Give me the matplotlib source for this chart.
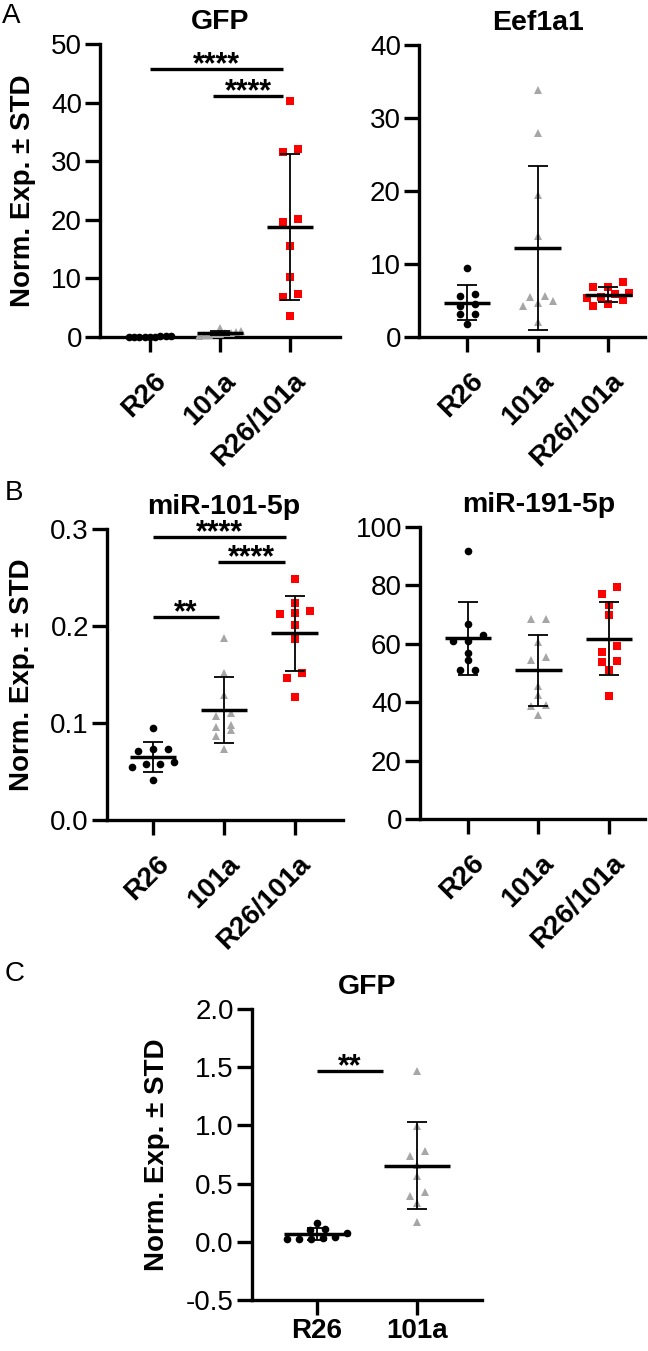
import numpy as np
import matplotlib
matplotlib.use("Agg")
import matplotlib.pyplot as plt
from matplotlib.transforms import ScaledTranslation

plt.rcParams['font.family'] = ['Liberation Sans', 'DejaVu Sans']

W, H = 648, 1351

groups = ['R26', '101a', 'R26/101a']

# GFP (same animals in panel A and in panel C)
gfp_r26 = [0.165, 0.11, 0.10, 0.075, 0.025, 0.02, 0.04, 0.02, 0.03]
gfp_101a = [1.47, 0.996, 0.738, 0.782, 0.661, 0.566, 0.397, 0.427, 0.332, 0.174]
gfp_dbl = [40.2, 32.0, 31.6, 20.2, 19.7, 15.6, 10.2, 7.3, 6.9, 3.5]

eef_r26 = [9.5, 5.9, 5.6, 4.5, 4.2, 3.1, 3.1, 1.8]
eef_101a = [33.8, 27.9, 19.4, 13.8, 5.5, 4.6, 4.9, 5.6, 4.3, 2.1]
eef_dbl = [7.5, 6.0, 6.9, 6.9, 5.9, 5.3, 5.1, 5.5, 4.3, 4.5]

mir101_r26 = [0.095, 0.073, 0.071, 0.073, 0.058, 0.060, 0.058, 0.041, 0.055]
mir101_101a = [0.188, 0.152, 0.129, 0.110, 0.107, 0.096, 0.098, 0.093, 0.087, 0.073]
mir101_dbl = [0.248, 0.224, 0.213, 0.212, 0.215, 0.201, 0.187, 0.152, 0.146, 0.127]

mir191_r26 = [91.9, 66.9, 63.1, 61.0, 61.0, 56.8, 54.3, 50.9, 50.9]
mir191_101a = [68.5, 68.5, 60.5, 55.5, 54.3, 45.4, 42.6, 39.2, 38.8, 35.7]
mir191_dbl = [79.5, 77.2, 73.4, 69.7, 59.1, 57.2, 54.0, 53.8, 51.1, 42.0]

# significance bars: (from group, to group, height, stars)
gfp_sig = [(0, 1.9, 45.7, '****'), (0.9, 1.9, 41.1, '****')]
mir101_sig = [(0, 1.88, 0.2917, '****'), (0.92, 1.86, 0.2656, '****'),
              (0, 0.93, 0.2092, '**')]
gfpc_sig = [(0, 0.66, 1.464, '**')]

gfp_yticks = [0, 10, 20, 30, 40, 50]
eef_yticks = [0, 10, 20, 30, 40]
mir101_yticks = [0.0, 0.1, 0.2, 0.3]
mir191_yticks = [0, 20, 40, 60, 80, 100]
gfpc_yticks = [-0.5, 0.0, 0.5, 1.0, 1.5, 2.0]

styles = [dict(marker='o', color='black'),
          dict(marker='^', color='#a6a6a6'),
          dict(marker='s', color='#ff0000')]

fig = plt.figure(figsize=(W / 100, H / 100), dpi=100)


def px_box(x0, y0, x1, y1):
    return [x0 / W, 1 - y1 / H, (x1 - x0) / W, (y1 - y0) / H]


def swarm(ax, x0, values, row_px=7.0, step_px=15.0, max_frac=0.6):
    """Spread points of similar value sideways, in rows like a column scatter."""
    values = np.asarray(values, dtype=float)
    pts = ax.transData.transform(np.column_stack([np.full(len(values), x0), values]))
    ypx = pts[:, 1]
    xscale = ax.transData.transform((1, 0))[0] - ax.transData.transform((0, 0))[0]
    max_px = max_frac * xscale
    order = np.argsort(ypx)
    rows, cur, start = [], [order[0]], ypx[order[0]]
    for i in order[1:]:
        if ypx[i] - start < row_px:
            cur.append(i)
        else:
            rows.append(cur)
            cur, start = [i], ypx[i]
    rows.append(cur)
    offs = np.zeros(len(values))
    for r in rows:
        n = len(r)
        if n > 1:
            step = min(step_px, max_px / (n - 1))
            for k, i in enumerate(r):
                offs[i] = (k - (n - 1) / 2) * step
    return x0 + offs / xscale


def draw_panel(box, xlim, title, series, yticks, fmt, sig=(), rotate=True, ylabel_x=None):
    ax = fig.add_axes(px_box(*box))
    ax.set_xlim(xlim)
    ax.set_ylim(yticks[0], yticks[-1])
    for s in ['top', 'right']:
        ax.spines[s].set_visible(False)
    for s in ['left', 'bottom']:
        ax.spines[s].set_linewidth(2.4)
    ax.tick_params(width=2.4, length=11, labelsize=20, pad=2)
    ax.set_yticks(yticks)
    ax.set_yticklabels([fmt.format(t) for t in yticks])
    xs = np.arange(len(series))
    ax.set_xticks(xs)
    if rotate:
        labels = ax.set_xticklabels(groups[:len(series)], rotation=45, ha='right', va='top',
                                    fontweight='bold', fontsize=20)
        for lab in labels:
            lab.set_transform(lab.get_transform() + ScaledTranslation(21 / 100, -13 / 100, fig.dpi_scale_trans))
    else:
        ax.set_xticklabels(groups[:len(series)], fontweight='bold', fontsize=20)

    for i, vals in enumerate(series):
        vals = np.asarray(vals)
        xpos = swarm(ax, i, vals)
        ax.plot(xpos, vals, linestyle='none', markersize=5.5, markeredgewidth=0,
                clip_on=False, zorder=4, **styles[i])
        m, sd = vals.mean(), vals.std(ddof=1)
        ax.plot([i - 0.33, i + 0.33], [m, m], color='black', lw=2.5, zorder=5,
                solid_capstyle='butt')
        ax.errorbar(i, m, yerr=sd, color='black', elinewidth=1.3, capsize=7,
                    capthick=1.3, zorder=5, clip_on=False)

    for a, b, y, txt in sig:
        ax.plot([a, b], [y, y], color='black', lw=2.4, clip_on=False, solid_capstyle='butt')
        ax.annotate(txt, xy=((a + b) / 2, y), xytext=(0, -3), textcoords='offset points',
                    ha='center', va='baseline', fontsize=22, fontweight='bold',
                    annotation_clip=False)

    ax.annotate(title, xy=((len(series) - 1) / 2, 1), xycoords=('data', 'axes fraction'),
                xytext=(0, 11), textcoords='offset points', ha='center', va='baseline',
                fontsize=20.5, fontweight='bold', annotation_clip=False)

    if ylabel_x is not None:
        yc = (box[1] + box[3]) / 2
        fig.text(ylabel_x / W, 1 - yc / H, 'Norm. Exp. ± STD', rotation=90,
                 ha='center', va='center', fontsize=20, fontweight='bold')
    return ax


draw_panel((100, 44, 340, 337), (-0.714, 2.714), 'GFP', [gfp_r26, gfp_101a, gfp_dbl],
           gfp_yticks, '{:g}', gfp_sig, ylabel_x=23)
draw_panel((419, 45, 645, 337), (-0.68, 2.52), 'Eef1a1', [eef_r26, eef_101a, eef_dbl],
           eef_yticks, '{:g}')
draw_panel((107, 529, 343, 820), (-0.65, 2.68), 'miR-101-5p', [mir101_r26, mir101_101a, mir101_dbl],
           mir101_yticks, '{:.1f}', mir101_sig, ylabel_x=22)
draw_panel((420, 527, 645, 819), (-0.68, 2.51), 'miR-191-5p', [mir191_r26, mir191_101a, mir191_dbl],
           mir191_yticks, '{:g}')
draw_panel((252, 1009, 482, 1300), (-0.65, 1.65), 'GFP', [gfp_r26, gfp_101a],
           gfpc_yticks, '{:.1f}', gfpc_sig, rotate=False, ylabel_x=157)

for letter, (x, y) in zip('ABC', [(2, 16), (5, 493), (5, 974)]):
    fig.text(x / W, 1 - y / H, letter, fontsize=20, ha='left', va='center')

fig.savefig('out.png', dpi=100)
